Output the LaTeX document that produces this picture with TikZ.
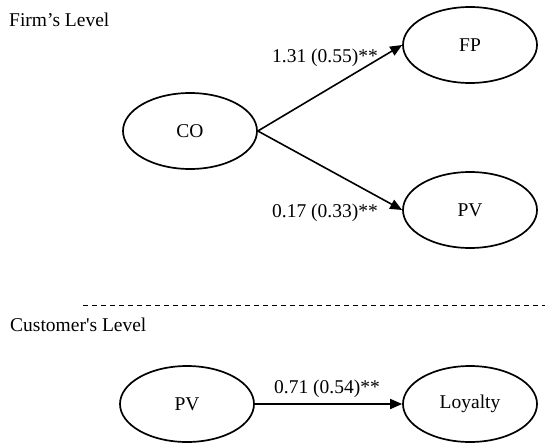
\documentclass[tikz,border=0pt]{standalone}
\usepackage{fontspec}
\setmainfont{Liberation Serif}
\newfontfamily\rawserif{Liberation Serif}
\usetikzlibrary{shapes.geometric,arrows.meta}
\begin{document}
\begin{tikzpicture}[x=1pt,y=-1pt,
  construct/.style={draw,ellipse,line width=1.7pt,minimum width=134pt,minimum height=76pt,inner sep=0pt,
    font=\fontsize{19.5}{23}\selectfont},
  path/.style={draw,line width=1.6pt,-{Triangle[length=12pt,width=10pt]}},
  coef/.style={font=\fontsize{19.5}{23}\selectfont,inner sep=0pt,anchor=base},
  level/.style={font=\fontsize{19.5}{23}\selectfont,inner sep=0pt,anchor=base west}]
\useasboundingbox (0,0) rectangle (545,444);
% firm level
\node[level] (firm) at (9,27) {Firm’s Level};
\node[construct] (co) at (190,131) {CO};
\node[construct] (fp) at (470,45) {FP};
\node[construct] (pv1) at (470,210) {PV};
\draw[path] (co.east) -- (fp.west);
\draw[path] (co.east) -- (pv1.west);
\node[coef] (c1) at (325,62) {1.31 (0.55)**};
\node[coef] (c2) at (325,217) {0.17 (0.33)**};
% separator
\coordinate (dl) at (83,305);
\coordinate (dr) at (545,305);
\draw[line width=1pt,dash pattern=on 5pt off 4pt] (dl) -- (dr);
% customer level
\node[level] (cust) at (10,331) {Customer{\rawserif'}s Level};
\node[construct] (pv2) at (187,404) {PV};
\node[construct] (loy) at (470,404) {Loyalty};
\draw[path] (pv2.east) -- (loy.west);
\node[coef] (c3) at (327,393) {0.71 (0.54)**};
\end{tikzpicture}
\end{document}
